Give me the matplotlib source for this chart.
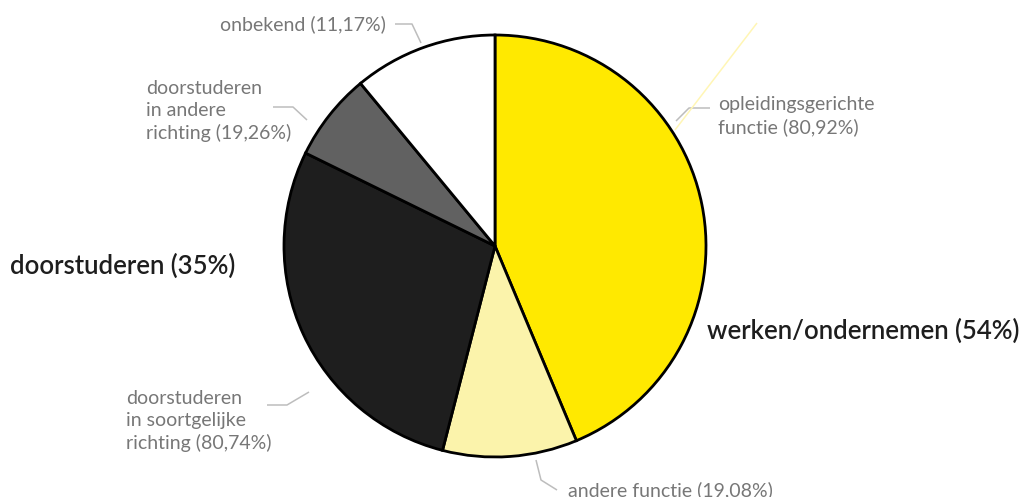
import matplotlib
matplotlib.use("Agg")
from matplotlib import pyplot as plt

# main groups (%)
group_labels = ["werken/ondernemen (54%)", "doorstuderen (35%)"]
group_share = [54, 35]
unknown_share = 11

# sub-shares within each group (%)
work_sub = [80.92, 19.08]
study_sub = [80.74, 19.26]

slice_labels = ["opleidingsgerichte\nfunctie (80,92%)",
                "andere functie (19,08%)",
                "doorstuderen\nin soortgelijke\nrichting (80,74%)",
                "doorstuderen\nin andere\nrichting (19,26%)",
                "onbekend (11,17%)"]

values = [group_share[0] * work_sub[0] / 100, group_share[0] * work_sub[1] / 100,
          group_share[1] * study_sub[0] / 100, group_share[1] * study_sub[1] / 100,
          unknown_share]
colors = ["#FFE900", "#FBF3AB", "#1E1E1E", "#616161", "#FFFFFF"]

H = 497
plt.rcParams['font.family'] = ['Lato', 'DejaVu Sans']

fig = plt.figure(figsize=(10.2, 4.97), dpi=100)
ax = fig.add_axes([0, 0, 1, 1])

ax.pie(values, colors=colors, startangle=90, counterclock=False,
       center=(495, H - 246), radius=211, frame=True,
       wedgeprops=dict(edgecolor='black', linewidth=2))
ax.set_xlim(0, 1020)
ax.set_ylim(0, H)
ax.set_aspect('auto')
ax.axis('off')

def leader(pts, color="#BDBDBD"):
    xs = [p[0] for p in pts]
    ys = [H - p[1] for p in pts]
    ax.plot(xs, ys, color=color, lw=1.1, solid_capstyle='butt')

leader([(395, 24), (412, 24), (421, 43)])
leader([(273, 107), (293, 107), (307, 120)])
leader([(710, 108), (689, 108), (676, 121)])
leader([(267, 405), (287, 405), (309, 392)])
leader([(536, 460), (541, 480), (557, 490)])
leader([(675, 130), (757, 23)], color="#FFF6B5")

grey = "#777777"
fs = 14
ls = 1.36
ax.text(220, H - 24, slice_labels[4], fontsize=fs, color=grey, va='center', ha='left')
ax.text(146, H - 111, slice_labels[3], fontsize=fs, color=grey, va='center', ha='left', linespacing=ls)
ax.text(718, H - 116, slice_labels[0], fontsize=fs, color=grey, va='center', ha='left', linespacing=ls)
ax.text(126, H - 421, slice_labels[2], fontsize=fs, color=grey, va='center', ha='left', linespacing=ls)
ax.text(568, H - 490, slice_labels[1], fontsize=fs, color=grey, va='center', ha='left')

ax.text(10, H - 266, group_labels[1], fontsize=18.5, color="#1E1E1E", va='center', ha='left', fontweight='semibold')
ax.text(707, H - 331, group_labels[0], fontsize=18.5, color="#1E1E1E", va='center', ha='left', fontweight='semibold')

fig.savefig("out.png", dpi=100)
